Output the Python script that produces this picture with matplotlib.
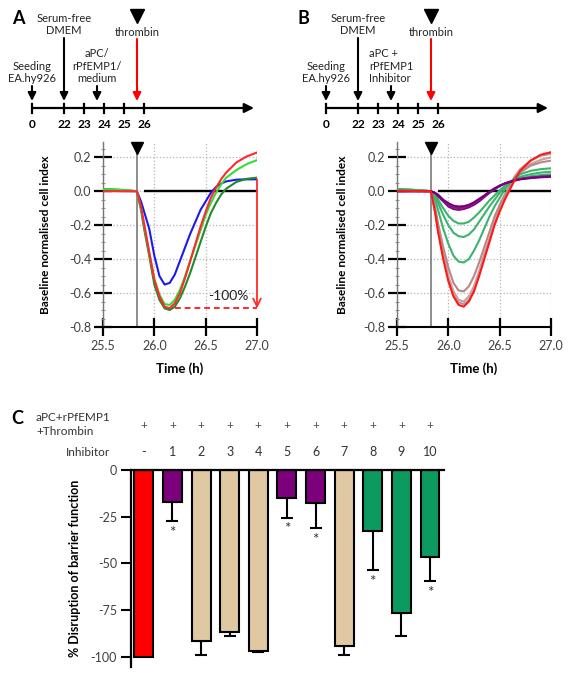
import numpy as np
import matplotlib.pyplot as plt
from matplotlib.ticker import MultipleLocator

plt.rcParams['font.family'] = ['Lato', 'DejaVu Sans']

# ---- timeline (schematic) ----
tl_ticks = [0, 22, 23, 24, 25, 26]
tl_labels = ['0', '22', '23', '24', '25', '26']
events_a = ['Seeding\nEA.hy926', 'Serum-free\nDMEM', 'aPC/\nrPfEMP1/\nmedium', 'thrombin']
events_b = ['Seeding\nEA.hy926', 'Serum-free\nDMEM', 'aPC +\nrPfEMP1\nInhibitor', 'thrombin']
event_h = [0, 22, 23.65, 25.65]

# ---- impedance traces ----
t = [25.5, 25.65, 25.8, 25.83, 25.87, 25.9, 25.95, 26.0, 26.05, 26.1, 26.15, 26.2,
     26.25, 26.3, 26.35, 26.4, 26.45, 26.5, 26.55, 26.6, 26.65, 26.7, 26.8, 26.9, 27.0]
thrombin_t = 25.83

a_red = [0.0, 0.0, 0.0, 0.0, -0.09, -0.19, -0.36, -0.52, -0.62, -0.68, -0.69, -0.66, -0.60,
         -0.51, -0.41, -0.31, -0.21, -0.12, -0.04, 0.02, 0.07, 0.11, 0.17, 0.205, 0.228]
a_lime = [0.012, 0.008, 0.002, 0.0, -0.10, -0.20, -0.36, -0.52, -0.61, -0.665, -0.67, -0.64, -0.58,
          -0.50, -0.41, -0.32, -0.23, -0.14, -0.07, -0.01, 0.04, 0.08, 0.125, 0.16, 0.183]
a_dgreen = [0.013, 0.009, 0.002, 0.0, -0.11, -0.22, -0.38, -0.55, -0.64, -0.69, -0.70, -0.68, -0.63,
            -0.56, -0.48, -0.39, -0.30, -0.21, -0.13, -0.07, -0.02, 0.015, 0.055, 0.073, 0.08]
a_blue = [0.003, 0.001, 0.0, 0.0, -0.06, -0.12, -0.22, -0.38, -0.50, -0.55, -0.54, -0.49, -0.41,
          -0.33, -0.25, -0.18, -0.11, -0.06, -0.01, 0.025, 0.045, 0.058, 0.068, 0.07, 0.07]

b_brown1 = [0.005, 0.003, 0.001, 0.0, -0.12, -0.23, -0.38, -0.51, -0.60, -0.655, -0.665, -0.64, -0.58,
            -0.49, -0.39, -0.29, -0.19, -0.11, -0.04, 0.03, 0.09, 0.13, 0.18, 0.21, 0.22]
b_brown2 = [0.005, 0.003, 0.001, 0.0, -0.11, -0.22, -0.37, -0.50, -0.59, -0.64, -0.65, -0.62, -0.56,
            -0.47, -0.37, -0.28, -0.18, -0.10, -0.03, 0.03, 0.09, 0.12, 0.16, 0.185, 0.20]
b_brown3 = [0.005, 0.003, 0.001, 0.0, -0.09, -0.19, -0.33, -0.45, -0.54, -0.585, -0.59, -0.56, -0.50,
            -0.42, -0.33, -0.24, -0.15, -0.08, -0.02, 0.03, 0.08, 0.11, 0.15, 0.17, 0.18]
b_green1 = [0.012, 0.008, 0.002, 0.0, -0.05, -0.11, -0.22, -0.31, -0.38, -0.415, -0.42, -0.40, -0.35,
            -0.29, -0.22, -0.15, -0.09, -0.04, 0.01, 0.05, 0.08, 0.10, 0.12, 0.13, 0.135]
b_green2 = [0.012, 0.008, 0.002, 0.0, -0.03, -0.07, -0.14, -0.20, -0.245, -0.265, -0.27, -0.255, -0.225,
            -0.18, -0.135, -0.09, -0.05, -0.01, 0.025, 0.05, 0.07, 0.085, 0.10, 0.11, 0.115]
b_green3 = [0.012, 0.008, 0.002, 0.0, -0.02, -0.05, -0.10, -0.145, -0.175, -0.19, -0.19, -0.18, -0.155,
            -0.125, -0.09, -0.055, -0.025, 0.005, 0.03, 0.05, 0.065, 0.075, 0.088, 0.095, 0.10]
b_purple1 = [0.0, 0.0, 0.0, 0.0, -0.01, -0.03, -0.06, -0.09, -0.105, -0.11, -0.105, -0.095, -0.08,
             -0.06, -0.035, -0.01, 0.01, 0.03, 0.045, 0.055, 0.065, 0.072, 0.08, 0.085, 0.088]
b_purple2 = [0.0, 0.0, 0.0, 0.0, -0.01, -0.025, -0.055, -0.08, -0.095, -0.10, -0.095, -0.085, -0.07,
             -0.05, -0.03, -0.005, 0.015, 0.032, 0.046, 0.056, 0.065, 0.072, 0.08, 0.086, 0.09]
b_purple3 = [0.0, 0.0, 0.0, 0.0, -0.01, -0.02, -0.05, -0.07, -0.085, -0.09, -0.088, -0.08, -0.065,
             -0.045, -0.025, -0.003, 0.017, 0.033, 0.045, 0.055, 0.063, 0.07, 0.077, 0.082, 0.085]
b_red = [0.003, 0.002, 0.0, 0.0, -0.12, -0.24, -0.40, -0.53, -0.62, -0.67, -0.68, -0.65, -0.59,
         -0.50, -0.40, -0.30, -0.20, -0.12, -0.05, 0.01, 0.07, 0.12, 0.18, 0.215, 0.23]

ref_min = -0.69
ref_max = 0.07

# ---- bar chart ----
inhibitors = ['-', '1', '2', '3', '4', '5', '6', '7', '8', '9', '10']
disruption = [-100, -17, -91.5, -87, -97, -15, -17.5, -94.5, -32.5, -76.5, -46.5]
sem = [0, 10.5, 7.5, 2, 0.5, 10.5, 13.5, 4.5, 21, 12.5, 13]
signif = [False, True, False, False, False, True, True, False, True, False, True]
groups = ['ctrl', 'p', 't', 't', 't', 'p', 'p', 't', 'g', 'g', 'g']
group_col = {'ctrl': '#ff0000', 'p': '#7c007c', 't': '#dfc8a2', 'g': '#0c9a60'}

W, H = 570, 677
fig = plt.figure(figsize=(W / 100, H / 100), dpi=100)


def fwd(h):
    h = np.asarray(h, float)
    return np.where(h <= 22, h * 1.6 / 22, h - 20.4)


def inv(p):
    p = np.asarray(p, float)
    return np.where(p <= 1.6, p * 22 / 1.6, p + 20.4)


def timeline(x0, zero_px, labels, letter, left_align_mid):
    ax = fig.add_axes([x0 / W, 1 - 140 / H, 285 / W, 140 / H])
    ax.set_xscale('function', functions=(fwd, inv))
    ax.set_xlim(inv(-zero_px / 20), inv((285 - zero_px) / 20))
    ax.set_ylim(140, 0)
    ax.axis('off')
    ax.annotate('', xy=(31.5, 108), xytext=(0, 108),
                arrowprops=dict(arrowstyle='-|>', lw=1.6, color='k', mutation_scale=14,
                                shrinkA=0, shrinkB=0))
    for h, lab in zip(tl_ticks, tl_labels):
        ax.plot([h, h], [103.5, 112.5], color='k', lw=1.6)
        ax.text(h, 124, lab, ha='center', va='center', fontsize=8.6, fontweight='bold')
    starts = [86, 38, 86, 39]
    for i, (h, lab, y0) in enumerate(zip(event_h, labels, starts)):
        col = 'red' if lab == 'thrombin' else 'k'
        ax.annotate('', xy=(h, 101), xytext=(h, y0),
                    arrowprops=dict(arrowstyle='-|>', lw=1.5, color=col, mutation_scale=12,
                                    shrinkA=0, shrinkB=0))
        ma = 'left' if (i == 2 and left_align_mid) else 'center'
        ax.text(h, y0 - 1.5, lab, ha='center', va='bottom', fontsize=8,
                multialignment=ma, linespacing=1.2, color='#222222')
    ax.plot(event_h[3], 15.5, marker='v', ms=9.5, color='k')
    fig.text(x0 / W + 18 / W, 1 - 18 / H, letter, fontsize=13, fontweight='bold',
             ha='center', va='center')


timeline(0, 32, events_a, 'A', False)
timeline(285, 41, events_b, 'B', True)


def cell_plot(left_px, curves, label_x):
    ax = fig.add_axes([left_px / W, 1 - 327 / H, 154 / W, 185 / H])
    for y, c in curves:
        ax.plot(t, y, color=c, lw=1.5, zorder=3)
    ax.axvline(thrombin_t, color='#7a7a7a', lw=1.2, zorder=2)
    ax.hlines(0, 25.9, 27.0, color='k', lw=1.7, zorder=2)
    ax.plot(thrombin_t, 0.255, marker='v', ms=9, color='k', clip_on=False, zorder=5)
    ax.set_xlim(25.5, 27.0)
    ax.set_ylim(-0.8, 0.29)
    ax.set_xticks([25.5, 26.0, 26.5, 27.0])
    ax.set_xticklabels(['25.5', '26.0', '26.5', '27.0'])
    ax.set_yticks([0.2, 0.0, -0.2, -0.4, -0.6, -0.8])
    ax.set_yticklabels(['0.2', '0.0', '-0.2', '-0.4', '-0.6', '-0.8'])
    ax.yaxis.set_minor_locator(MultipleLocator(0.05))
    ax.grid(True, which='major', ls=':', color='#b5b5b5', lw=0.9)
    ax.tick_params(which='major', direction='inout', length=13, width=1.6, color='k',
                   labelsize=9, labelcolor='#404040')
    ax.tick_params(axis='x', pad=3)
    ax.tick_params(axis='y', pad=2)
    ax.tick_params(which='minor', direction='inout', length=3, width=0.8, color='#999999')
    for s in ['top', 'right']:
        ax.spines[s].set_visible(False)
    ax.spines['left'].set_color('#777777')
    ax.spines['left'].set_linewidth(1.0)
    ax.spines['bottom'].set_linewidth(1.5)
    ax.set_ylabel('Baseline normalised cell index', fontsize=8.6, fontweight='bold')
    ax.yaxis.set_label_coords(label_x, 0.5)
    ax.set_xlabel('Time (h)', fontsize=9.5, fontweight='bold')
    ax.xaxis.set_label_coords(0.5, -0.19)
    return ax


ax_a = cell_plot(103, [(a_blue, '#1a1aee'), (a_dgreen, '#1f8a2e'), (a_lime, '#33dd33'),
                       (a_red, '#ff2a2a')], -0.34)
ax_a.annotate('', xy=(27.0, ref_min), xytext=(27.0, ref_max),
              arrowprops=dict(arrowstyle='->', lw=1.3, color='#ff2a2a', mutation_scale=14,
                              shrinkA=0, shrinkB=0), annotation_clip=False)
ax_a.hlines(ref_min, 26.2, 27.0, color='#ff2a2a', lw=1.4, linestyles=(0, (3, 2)), zorder=4)
ax_a.text(26.72, -0.615, '-100%', ha='center', va='center', fontsize=10, color='#222222')

ax_b = cell_plot(397, [(b_brown1, '#c09292'), (b_brown2, '#c9a0a0'), (b_brown3, '#b88888'),
                       (b_green1, '#3cb36e'), (b_green2, '#3cb36e'), (b_green3, '#3cb36e'),
                       (b_purple1, '#80087f'), (b_purple2, '#8a158a'), (b_purple3, '#7a007a'),
                       (b_red, '#ff1a1a')], -0.32)

# ---- panel C ----
axc = fig.add_axes([131 / W, 10 / H, 313 / W, 197 / H])
x = np.arange(len(inhibitors))
axc.bar(x, disruption, width=0.66, color=[group_col[g] for g in groups],
        edgecolor='k', lw=1.5, zorder=2)
for xi, v, e, s in zip(x, disruption, sem, signif):
    if e > 0:
        axc.errorbar(xi, v, yerr=[[e], [0]], fmt='none', ecolor='k', elinewidth=1.5,
                     capsize=4.5, capthick=1.5, zorder=1)
    if s:
        axc.text(xi, v - e - 2.5, '*', ha='center', va='top', fontsize=11, color='#333333')
axc.set_xlim(-0.45, 10.49)
axc.set_ylim(-105.5, 0)
axc.set_xticks([])
axc.set_yticks([0, -25, -50, -75, -100])
axc.set_yticklabels(['0', '-25', '-50', '-75', '-100'])
axc.tick_params(axis='y', direction='out', length=7, width=1.5, labelsize=9,
                labelcolor='#404040', pad=3)
for s in ['right', 'bottom']:
    axc.spines[s].set_visible(False)
axc.spines['top'].set_linewidth(1.6)
axc.spines['left'].set_linewidth(1.6)
axc.set_ylabel('% Disruption of barrier function', fontsize=9, fontweight='bold')
axc.yaxis.set_label_coords(-0.16, 0.5)

tr = axc.get_xaxis_transform()
for xi, lab in zip(x, inhibitors):
    axc.text(xi, 1.228, '+', transform=tr, ha='center', va='center', fontsize=8.5, color='#505050')
    axc.text(xi, 1.091, lab, transform=tr, ha='center', va='center', fontsize=9, color='#333333')

fig.text(36 / W, 1 - 424.5 / H, 'aPC+rPfEMP1\n+Thrombin', ha='left', va='center',
         fontsize=8.5, color='#333333', linespacing=1.25)
fig.text(110 / W, 1 - 452 / H, 'Inhibitor', ha='right', va='center', fontsize=8.5, color='#333333')
fig.text(17 / W, 1 - 418 / H, 'C', ha='center', va='center', fontsize=13, fontweight='bold')

fig.savefig('out.png', dpi=100)
